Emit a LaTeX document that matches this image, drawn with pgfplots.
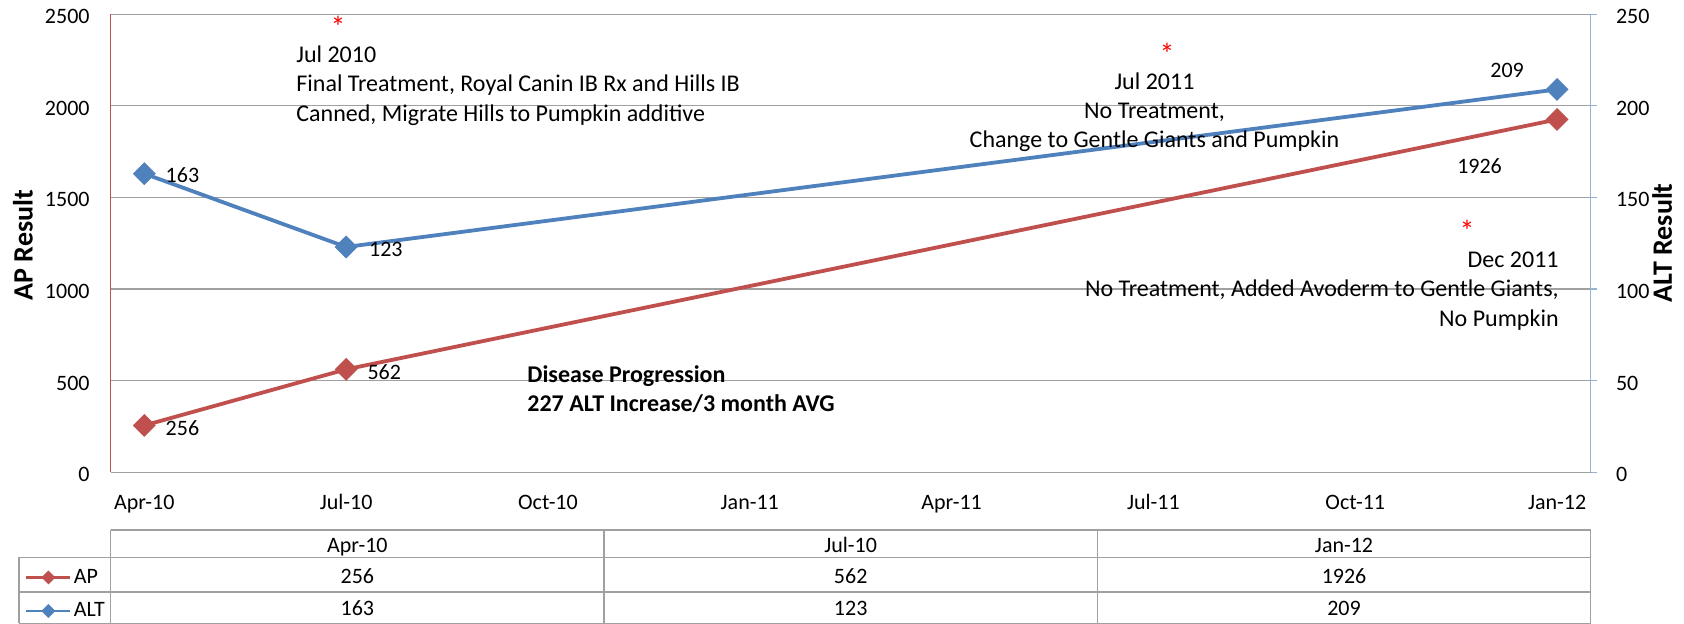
\documentclass[border=0pt]{standalone}
\usepackage{fontspec}
\setmainfont{Carlito}
\usepackage{pgfplots}
\pgfplotsset{compat=1.18}
\definecolor{apred}{HTML}{C0504D}
\definecolor{altblue}{HTML}{4F81BD}
\definecolor{gridgray}{HTML}{A0A0A0}
\definecolor{spineblue}{HTML}{95B3D7}
\tikzset{dl/.style={font=\fontsize{11}{13}\selectfont, inner sep=0pt}}
\begin{document}
\begin{tikzpicture}
\pgfplotsset{
  common/.style={
    scale only axis, width=740pt, height=229pt,
    xmin=-0.5, xmax=21.5, ymin=0, clip=false,
    /pgf/number format/assume math mode=true,
    /pgf/number format/1000 sep={},
    scaled y ticks=false,
    tick label style={font=\fontsize{11}{13}\selectfont},
    axis line style={draw=none},
    legend image code/.code={\draw[mark repeat=2, mark phase=2, ##1, line width=1.4pt, mark size=2.2pt] plot coordinates {(0pt,0pt) (11pt,0pt) (22pt,0pt)};},
  },
  apstyle/.style={apred, line width=1.9pt, mark=square*, mark size=3.8pt, mark options={solid, rotate=45, fill=apred, draw=apred, line width=0.5pt}},
  altstyle/.style={altblue, line width=1.9pt, mark=square*, mark size=3.8pt, mark options={solid, rotate=45, fill=altblue, draw=altblue, line width=0.5pt}},
}
\begin{axis}[common, ymax=2500,
  ytick={0,500,...,2500},
  xtick={0,3,...,21},
  xticklabels={Apr-10,Jul-10,Oct-10,Jan-11,Apr-11,Jul-11,Oct-11,Jan-12},
  major tick length=0pt,
  ymajorgrids, grid style={gridgray, line width=0.6pt},
  xticklabel style={anchor=base, inner sep=0pt, yshift=-18.4pt},
  yticklabel style={anchor=east, inner sep=0pt, xshift=-10.35pt, yshift=-1.2pt},
  ylabel={AP Result},
  every axis y label/.style={at={(axis description cs:-0.05926,0.4963)}, rotate=90, anchor=center, font=\fontsize{14}{16}\selectfont\bfseries},
  legend style={at={(axis description cs:-0.05791,-0.2109)}, anchor=north west, draw=none, fill=none, inner sep=0pt, outer sep=0pt,
    row sep=8.2pt, column sep=1pt, font=\fontsize{11}{13}\selectfont, nodes={inner sep=0pt}},
  legend cell align=left,
]
\addplot[apstyle] coordinates {(0,256) (3,562) (21,1926)};
\addlegendentry{AP}
\addlegendimage{altstyle}
\addlegendentry{ALT}
\draw[apred, line width=0.6pt] (rel axis cs:0,0) -- (rel axis cs:0,1);
\node[dl, anchor=west, xshift=10.5pt, yshift=-1.3pt] at (axis cs:0,256) {256};
\node[dl, anchor=west, xshift=10.5pt, yshift=-1.6pt] at (axis cs:3,562) {562};
\node[dl, anchor=center, xshift=-38.75pt, yshift=-23.25pt] at (axis cs:21,1926) {1926};
\end{axis}
\begin{axis}[common, ymax=250,
  xtick=\empty,
  ytick={0,50,...,250},
  ytick pos=right, yticklabel pos=right,
  tick align=outside, major tick length=3.3pt,
  ytick style={spineblue, line width=0.6pt},
  yticklabel style={anchor=west, inner sep=0pt, xshift=9.15pt, yshift=-1.2pt},
  ylabel={ALT Result},
  every axis y label/.style={at={(axis description cs:1.0482,0.5007)}, rotate=90, anchor=center, font=\fontsize{14}{16}\selectfont\bfseries},
]
\draw[spineblue, line width=0.6pt] (rel axis cs:1,0) -- (rel axis cs:1,1);
\addplot[altstyle] coordinates {(0,163) (3,123) (21,209)};
\node[dl, anchor=west, xshift=10.5pt, yshift=-0.5pt] at (axis cs:0,163) {163};
\node[dl, anchor=west, xshift=11.3pt, yshift=-1pt] at (axis cs:3,123) {123};
\node[dl, anchor=center, xshift=-25pt, yshift=9.7pt] at (axis cs:21,209) {209};
\end{axis}
% annotations
\begin{scope}[every node/.style={font=\fontsize{12}{14}\selectfont, inner sep=0pt}]
\node[anchor=base, red, font=\fontsize{15}{16}\selectfont] at (113.65pt,217.3pt) {*};
\node[anchor=base west] at (92.65pt,204.65pt) {Jul 2010};
\node[anchor=base west] at (92.65pt,190.15pt) {Final Treatment, Royal Canin IB Rx and Hills IB};
\node[anchor=base west] at (92.65pt,175.15pt) {Canned, Migrate Hills to Pumpkin additive};
\node[anchor=base, red, font=\fontsize{15}{16}\selectfont] at (528.15pt,203.8pt) {*};
\node[anchor=base] at (521.9pt,191.15pt) {Jul 2011};
\node[anchor=base] at (521.9pt,176.65pt) {No Treatment,};
\node[anchor=base] at (521.9pt,162.15pt) {Change to Gentle Giants and Pumpkin};
\node[anchor=base, red, font=\fontsize{15}{16}\selectfont] at (678.15pt,115.4pt) {*};
\node[anchor=base east] at (724.15pt,102.15pt) {Dec 2011};
\node[anchor=base east] at (724.15pt,87.65pt) {No Treatment, Added Avoderm to Gentle Giants,};
\node[anchor=base east] at (724.15pt,72.65pt) {No Pumpkin};
\node[anchor=base west, font=\fontsize{12}{14}\selectfont\bfseries] at (208.15pt,44.65pt) {Disease Progression};
\node[anchor=base west, font=\fontsize{12}{14}\selectfont\bfseries] at (208.15pt,30.15pt) {227 ALT Increase/3 month AVG};
\end{scope}
% data table
\begin{scope}[gridgray, line width=0.6pt]
\draw (0pt,-28.85pt) -- (740pt,-28.85pt);
\draw (-45.85pt,-42.6pt) -- (740pt,-42.6pt);
\draw (-45.85pt,-59.85pt) -- (740pt,-59.85pt);
\draw (-45.85pt,-75.5pt) -- (740pt,-75.5pt);
\draw (-45.85pt,-42.6pt) -- (-45.85pt,-75.5pt);
\draw (0pt,-28.85pt) -- (0pt,-75.5pt);
\draw (246.67pt,-28.85pt) -- (246.67pt,-75.5pt);
\draw (493.33pt,-28.85pt) -- (493.33pt,-75.5pt);
\draw (740pt,-28.85pt) -- (740pt,-75.5pt);
\end{scope}
\begin{scope}[every node/.style={font=\fontsize{11}{13}\selectfont, inner sep=0pt, anchor=base}]
\node at (123.33pt,-40.2pt) {Apr-10};
\node at (370pt,-40.2pt) {Jul-10};
\node at (616.67pt,-40.2pt) {Jan-12};
\node at (123.33pt,-55.5pt) {256};
\node at (370pt,-55.5pt) {562};
\node at (616.67pt,-55.5pt) {1926};
\node at (123.33pt,-71.7pt) {163};
\node at (370pt,-71.7pt) {123};
\node at (616.67pt,-71.7pt) {209};
\end{scope}
\pgfresetboundingbox
\path[use as bounding box] (-55.35pt,-75.85pt) rectangle (786.65pt,236.15pt);
\end{tikzpicture}
\end{document}
